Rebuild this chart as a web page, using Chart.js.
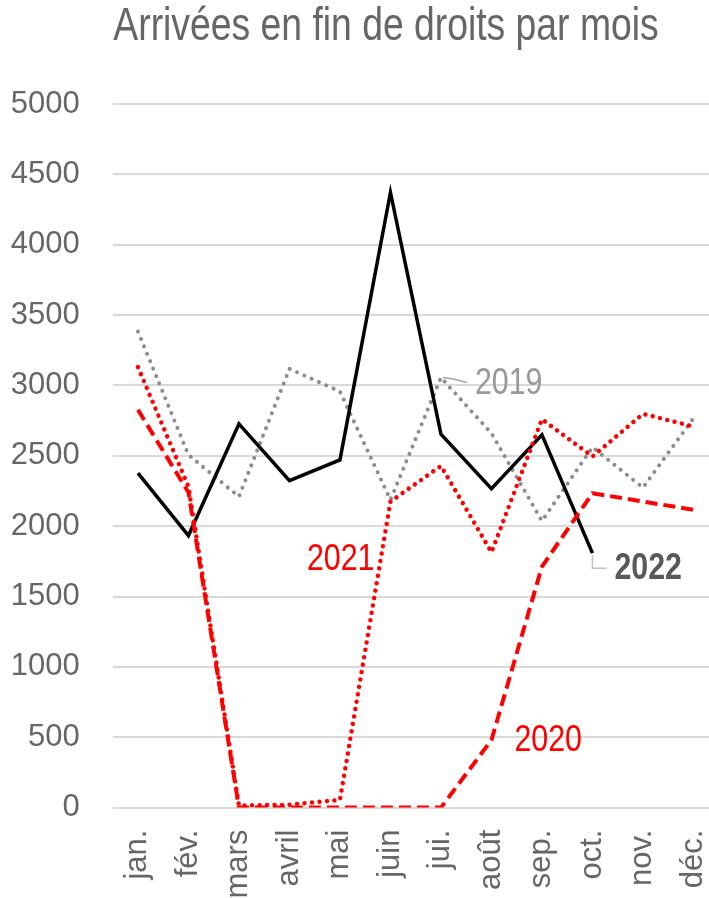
<!DOCTYPE html>
<html>
<head>
<meta charset="utf-8">
<script src="https://cdn.jsdelivr.net/npm/chart.js@4/dist/chart.umd.min.js"></script>
<style>
  html, body { margin: 0; padding: 0; overflow: hidden; background: #fff; }
  #wrap { width: 720px; height: 898px; }
</style>
</head>
<body>
<div id="wrap"><canvas id="arrivalsChart" width="720" height="898"></canvas></div>
<script>
const title = 'Arrivées en fin de droits par mois';
const months = ['jan.', 'fév.', 'mars', 'avril', 'mai', 'juin', 'jui.', 'août', 'sep.', 'oct.', 'nov.', 'déc.'];
const v2019 = [3383, 2507, 2210, 3118, 2957, 2187, 3056, 2660, 2037, 2561, 2274, 2767];
const v2020 = [2827, 2240, 0, 0, 0, 0, 0, 480, 1713, 2234, 2175, 2116];
const v2021 = [3130, 2280, 15, 20, 55, 2175, 2428, 1815, 2760, 2495, 2798, 2708];
const v2022 = [2377, 1933, 2727, 2324, 2471, 4371, 2654, 2267, 2649, 1808];
const yMin = 0, yMax = 5000, yStep = 500;

const FONT = "'Liberation Sans', Arial, sans-serif";
const GREY_TEXT = '#666666';
const NARROW = 0.82; // Arial Narrow is not installed, so squeeze Liberation Sans

// write text horizontally condensed, anchored like fillText
function narrowText(c, text, x, y, align) {
    c.save();
    c.translate(x, y);
    c.scale(NARROW, 1);
    c.textAlign = align;
    c.fillText(text, 0, 0);
    c.restore();
}

// title and the series names next to the lines
const annotations = {
    id: 'annotations',
    afterDatasetsDraw(chart) {
        const { ctx, scales: { x, y } } = chart;
        ctx.save();
        ctx.textBaseline = 'middle';

        ctx.font = '45.5px ' + FONT;
        ctx.fillStyle = GREY_TEXT;
        narrowText(ctx, title, 386, 27, 'center');

        ctx.font = '37px ' + FONT;

        // 2019, with a small leader from the July point
        let px = x.getPixelForValue(6), py = y.getPixelForValue(v2019[6]);
        ctx.strokeStyle = '#a6a6a6';
        ctx.lineWidth = 1.5;
        ctx.beginPath();
        ctx.moveTo(px + 2, py);
        ctx.quadraticCurveTo(px + 12, py + 1, px + 26, py + 5);
        ctx.stroke();
        ctx.fillStyle = '#999999';
        narrowText(ctx, '2019', px + 34, py + 6, 'left');

        // 2022, leader from the last point (October)
        px = x.getPixelForValue(9);
        py = y.getPixelForValue(v2022[9]);
        ctx.strokeStyle = '#bfbfbf';
        ctx.beginPath();
        ctx.moveTo(px, py + 2);
        ctx.lineTo(px, py + 15);
        ctx.lineTo(px + 14, py + 15);
        ctx.stroke();
        ctx.font = 'bold 37px ' + FONT;
        ctx.fillStyle = '#595959';
        narrowText(ctx, '2022', px + 22, py + 16, 'left');

        ctx.font = '37px ' + FONT;
        ctx.fillStyle = '#ff0000';
        // 2021, left of the June rise
        px = x.getPixelForValue(5);
        py = y.getPixelForValue(v2021[5]);
        narrowText(ctx, '2021', px - 16, py + 58, 'right');

        // 2020, right of the August point
        px = x.getPixelForValue(7);
        py = y.getPixelForValue(v2020[7]);
        narrowText(ctx, '2020', px + 23, py + 1, 'left');

        ctx.restore();
    }
};

const ctx = document.getElementById('arrivalsChart').getContext('2d');
const arrivalsChart = new Chart(ctx, {
    type: 'line',
    data: {
        labels: months,
        datasets: [
            {
                label: '2020',
                data: v2020,
                borderColor: '#ff0000',
                borderWidth: 4,
                borderDash: [12, 6],
                borderCapStyle: 'butt',
                pointRadius: 0,
                tension: 0
            },
            {
                label: '2021',
                data: v2021,
                borderColor: '#ff0000',
                borderWidth: 4.5,
                borderDash: [0.01, 7.5],
                borderCapStyle: 'round',
                pointRadius: 0,
                tension: 0
            },
            {
                label: '2022',
                data: v2022,
                borderColor: '#000000',
                borderWidth: 3.5,
                pointRadius: 0,
                tension: 0
            },
            {
                label: '2019',
                data: v2019,
                borderColor: '#8c8c8c',
                borderWidth: 4,
                borderDash: [0.01, 8],
                borderCapStyle: 'round',
                pointRadius: 0,
                tension: 0
            }
        ]
    },
    options: {
        responsive: false,
        animation: false,
        devicePixelRatio: 1,
        layout: {
            padding: { top: 104, right: 1.3, left: 0, bottom: 0 }
        },
        plugins: {
            legend: { display: false },
            tooltip: { enabled: false },
            title: { display: false }
        },
        scales: {
            x: {
                offset: true,
                grid: { display: false, drawTicks: false },
                border: { display: false },
                ticks: {
                    color: GREY_TEXT,
                    font: { family: FONT, size: 31 },
                    minRotation: 90,
                    maxRotation: 90,
                    autoSkip: false,
                    padding: 22
                },
                afterFit: function (scale) {
                    scale.height = 90.4;
                    scale.paddingLeft = 0;
                    scale.paddingRight = 0;
                }
            },
            y: {
                min: yMin,
                max: yMax,
                grid: { color: '#d9d9d9', lineWidth: 2, drawTicks: false },
                border: { display: false },
                ticks: {
                    stepSize: yStep,
                    color: GREY_TEXT,
                    font: { family: FONT, size: 31 },
                    padding: 33,
                    callback: function (value) {
                        return String(value);
                    }
                },
                afterFit: function (scale) {
                    scale.width = 112.7;
                }
            }
        }
    },
    plugins: [annotations]
});
</script>
</body>
</html>
